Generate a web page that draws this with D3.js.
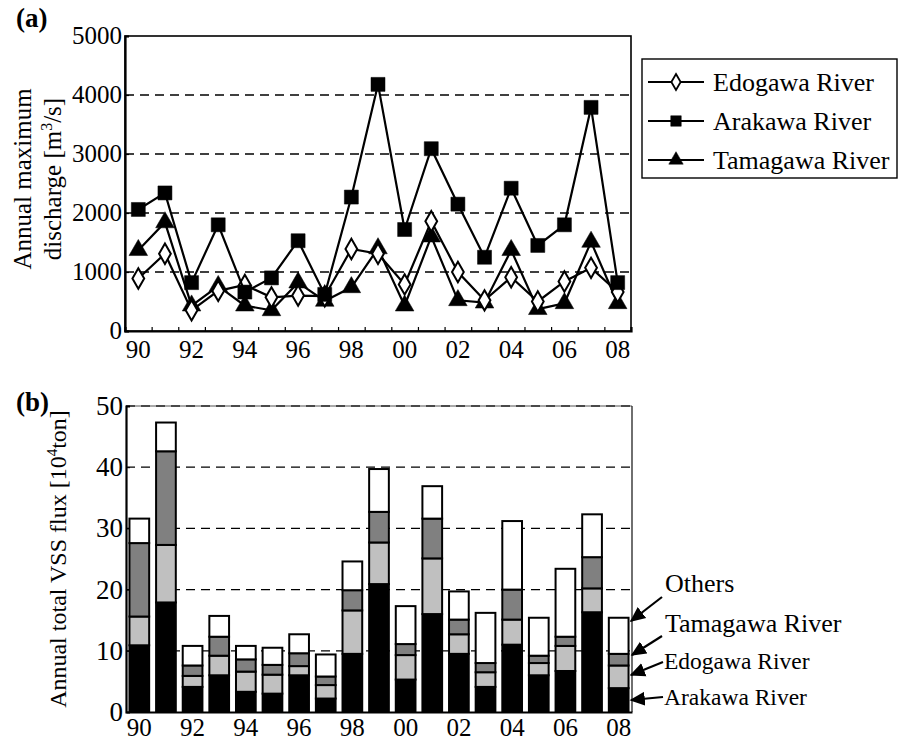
<!DOCTYPE html>
<html>
<head>
<meta charset="utf-8">
<script src="https://cdn.jsdelivr.net/npm/d3@7/dist/d3.min.js"></script>
<style>
  body { margin: 0; background: #fff; }
  svg { display: block; }
  text { font-family: "Liberation Serif", "Times New Roman", serif; fill: #000; }
</style>
</head>
<body>
<svg id="chart" width="898" height="740"></svg>
<script>
// Hydrological years 1990–2008
const years = [1990,1991,1992,1993,1994,1995,1996,1997,1998,1999,2000,2001,2002,2003,2004,2005,2006,2007,2008];
const yearLabels = ["90","92","94","96","98","00","02","04","06","08"];

// (a) annual maximum discharge [m3/s]
const edogawaQ  = [890,1310,350,680,780,570,600,590,1390,1310,790,1860,1000,520,910,500,840,1070,660];
const arakawaQ  = [2060,2340,820,1800,660,900,1530,620,2270,4180,1720,3090,2150,1250,2420,1450,1800,3790,820];
const tamagawaQ = [1370,1840,430,760,430,350,820,510,740,1400,430,1600,520,480,1370,370,470,1510,470];
const dischargeTicks = [0,1000,2000,3000,4000,5000];

// (b) annual total VSS flux [10^4 ton], by source
const arakawaF  = [10.9,17.9,4.1,6.0,3.3,3.0,6.0,2.2,9.5,20.9,5.3,16.0,9.5,4.1,11.0,6.0,6.7,16.3,3.9];
const edogawaF  = [4.7,9.4,1.8,3.2,3.3,3.1,1.5,2.2,7.1,6.8,4.0,9.1,3.2,2.4,4.1,2.0,4.1,3.9,3.7];
const tamagawaF = [12.0,15.3,1.7,3.1,2.0,1.6,2.1,1.4,3.3,5.0,1.8,6.5,2.4,1.5,4.9,1.2,1.5,5.1,1.9];
const othersF   = [4.0,4.7,3.2,3.4,2.2,2.8,3.1,3.6,4.7,7.0,6.2,5.3,4.6,8.2,11.2,6.2,11.1,7.0,5.9];
const fluxTicks = [0,10,20,30,40,50];
const fluxKeys = ["Arakawa River","Edogawa River","Tamagawa River","Others"];
const fluxColors = ["#000000","#c0c0c0","#808080","#ffffff"];

const svg = d3.select("#chart");

// ---------- panel (a) ----------
const A = {left:125, right:631, top:36, bottom:331};
const xA = d3.scaleBand().domain(years).range([A.left, A.right]).paddingInner(0.26).paddingOuter(0.13);
const xcA = d => xA(d) + xA.bandwidth()/2;
const yA = d3.scaleLinear().domain([0,5000]).range([A.bottom, A.top]);
const binA = d3.scaleLinear().domain([0, years.length]).range([A.left, A.right]);

const gA = svg.append("g");
// dashed gridlines
gA.append("g").selectAll("line").data(dischargeTicks.filter(v => v>0 && v<5000)).join("line")
  .attr("x1", A.left).attr("x2", A.right).attr("y1", d=>yA(d)).attr("y2", d=>yA(d))
  .attr("stroke","#000").attr("stroke-width",1.3).attr("stroke-dasharray","9,6");
// frame
gA.append("rect").attr("x",A.left).attr("y",A.top).attr("width",A.right-A.left).attr("height",A.bottom-A.top)
  .attr("fill","none").attr("stroke","#000").attr("stroke-width",1.6);

// y axis
const yAxisA = gA.append("g").attr("transform",`translate(${A.left},0)`)
  .call(d3.axisRight(yA).tickValues(dischargeTicks).tickSize(4).tickFormat(""));
yAxisA.select(".domain").attr("stroke-width",2.2);
yAxisA.selectAll(".tick line").attr("stroke-width",1.2);
gA.append("g").selectAll("text").data(dischargeTicks).join("text")
  .attr("x", A.left-3).attr("y", d=>yA(d)+8).attr("text-anchor","end")
  .attr("font-size",25).text(d=>d);

// x axis: inner ticks at year boundaries, labels every second year
const xAxisA = gA.append("g").attr("transform",`translate(0,${A.bottom})`)
  .call(d3.axisTop(binA).tickValues(d3.range(1, years.length)).tickSize(4).tickFormat(""));
xAxisA.select(".domain").attr("stroke-width",2.2);
xAxisA.selectAll(".tick line").attr("stroke-width",1.2);
gA.append("g").selectAll("text").data(yearLabels).join("text")
  .attr("x", (d,i)=>xcA(years[i*2])).attr("y", A.bottom+27).attr("text-anchor","middle")
  .attr("font-size",25).text(d=>d);

// series
const seriesA = [
  {name:"Tamagawa River", values:tamagawaQ, shape:"tri"},
  {name:"Edogawa River", values:edogawaQ, shape:"dia"},
  {name:"Arakawa River", values:arakawaQ, shape:"sq"}
];
const lineA = d3.line().x((d,i)=>xcA(years[i])).y(d=>yA(d));
const symbolFor = {
  sq:  d3.symbol().type(d3.symbolSquare).size(196),
  dia: d3.symbol().type(d3.symbolDiamond).size(120),
  tri: d3.symbol().type(d3.symbolTriangle).size(150)
};
seriesA.forEach(s => {
  const g = gA.append("g");
  g.append("path").datum(s.values).attr("d", lineA).attr("fill","none")
    .attr("stroke","#000").attr("stroke-width",2.2);
  g.selectAll("path.m").data(s.values).join("path").attr("class","m")
    .attr("transform",(d,i)=>`translate(${xcA(years[i])},${yA(d)})`)
    .attr("d", symbolFor[s.shape])
    .attr("fill", s.shape==="dia" ? "#fff" : "#000")
    .attr("stroke","#000").attr("stroke-width", s.shape==="dia" ? 2 : 0.5);
});

// legend
const leg = gA.append("g");
leg.append("rect").attr("x",642).attr("y",59).attr("width",255).attr("height",119)
  .attr("fill","#fff").attr("stroke","#000").attr("stroke-width",1.4);
const legItems = [
  {name:"Edogawa River", shape:"dia"},
  {name:"Arakawa River", shape:"sq"},
  {name:"Tamagawa River", shape:"tri"}
];
const legSym = {
  sq:  d3.symbol().type(d3.symbolSquare).size(110),
  dia: d3.symbol().type(d3.symbolDiamond).size(75),
  tri: d3.symbol().type(d3.symbolTriangle).size(90)
};
legItems.forEach((it,i) => {
  const y = 82 + i*39;
  leg.append("line").attr("x1",648).attr("x2",704).attr("y1",y).attr("y2",y)
    .attr("stroke","#000").attr("stroke-width",2);
  leg.append("path").attr("transform",`translate(676,${y})`).attr("d", legSym[it.shape])
    .attr("fill", it.shape==="dia" ? "#fff" : "#000").attr("stroke","#000")
    .attr("stroke-width", it.shape==="dia" ? 1.8 : 0.5);
  leg.append("text").attr("x",713).attr("y",y+9).attr("font-size",26).text(it.name);
});

// titles
gA.append("text").attr("x",16).attr("y",27).attr("font-size",27).attr("font-weight","bold").text("(a)");
const tA = gA.append("text").attr("transform","translate(0,179) rotate(-90)")
  .attr("text-anchor","middle").attr("font-size",25);
tA.append("tspan").attr("x",0).attr("y",31).text("Annual maximum");
const t2 = tA.append("tspan").attr("x",0).attr("y",61);
t2.append("tspan").text("discharge [m");
t2.append("tspan").attr("font-size",16).attr("dy",-9).text("3");
t2.append("tspan").attr("dy",9).text("/s]");

// ---------- panel (b) ----------
const B = {left:126, right:632, top:406, bottom:712};
const xB = d3.scaleBand().domain(years).range([B.left, B.right]).paddingInner(0.26).paddingOuter(0.13);
const yB = d3.scaleLinear().domain([0,50]).range([B.bottom, B.top]);

const gB = svg.append("g");
gB.append("g").selectAll("line").data(fluxTicks.filter(v => v>0)).join("line")
  .attr("x1", B.left).attr("x2", B.right).attr("y1", d=>yB(d)).attr("y2", d=>yB(d))
  .attr("stroke","#000").attr("stroke-width",1.3).attr("stroke-dasharray","9,6");
gB.append("line").attr("x1",B.left).attr("x2",B.right).attr("y1",B.top).attr("y2",B.top)
  .attr("stroke","#555").attr("stroke-width",1);
gB.append("line").attr("x1",B.right).attr("x2",B.right).attr("y1",B.top).attr("y2",B.bottom)
  .attr("stroke","#222").attr("stroke-width",1.3);

// stacked bars
const rows = years.map((y,i)=>({year:y, "Arakawa River":arakawaF[i], "Edogawa River":edogawaF[i], "Tamagawa River":tamagawaF[i], "Others":othersF[i]}));
const stacked = d3.stack().keys(fluxKeys)(rows);
gB.append("g").selectAll("g").data(stacked).join("g")
  .attr("fill",(d,i)=>fluxColors[i])
  .selectAll("rect").data(d=>d).join("rect")
  .attr("x", d=>xB(d.data.year)).attr("width", xB.bandwidth())
  .attr("y", d=>yB(d[1])).attr("height", d=>yB(d[0])-yB(d[1]))
  .attr("stroke","#000").attr("stroke-width",2);

const yAxisB = gB.append("g").attr("transform",`translate(${B.left},0)`)
  .call(d3.axisRight(yB).tickValues(fluxTicks).tickSize(4).tickFormat(""));
yAxisB.select(".domain").attr("stroke-width",2.2);
gB.append("g").selectAll("text").data(fluxTicks).join("text")
  .attr("x", B.left-3).attr("y", d=>yB(d)+9).attr("text-anchor","end")
  .attr("font-size",27).text(d=>d);
const xAxisB = gB.append("g").attr("transform",`translate(0,${B.bottom})`)
  .call(d3.axisTop(xB).tickSize(0).tickFormat(""));
xAxisB.select(".domain").attr("stroke-width",2.2);
gB.append("g").selectAll("text").data(yearLabels).join("text")
  .attr("x", (d,i)=>xB(years[i*2])+xB.bandwidth()/2).attr("y", B.bottom+24).attr("text-anchor","middle")
  .attr("font-size",25).text(d=>d);

gB.append("text").attr("x",16).attr("y",411).attr("font-size",27).attr("font-weight","bold").text("(b)");
const tB = gB.append("text").attr("transform","translate(66,559) rotate(-90)")
  .attr("text-anchor","middle").attr("font-size",24);
tB.append("tspan").text("Annual total VSS flux [10");
tB.append("tspan").attr("font-size",15).attr("dy",-9).text("4");
tB.append("tspan").attr("dy",9).text("ton]");

// component labels with arrows to the last bar
const defs = svg.append("defs");
defs.append("marker").attr("id","arrow").attr("viewBox","0 0 10 10").attr("refX",9).attr("refY",5)
  .attr("markerWidth",7).attr("markerHeight",7).attr("orient","auto-start-reverse")
  .append("path").attr("d","M0,0.5 L10,5 L0,9.5 z").attr("fill","#000");
const notes = [
  {text:"Others", size:26, tx:665, ty:592, from:[662,597], to:[631,621]},
  {text:"Tamagawa River", size:26, tx:665, ty:632, from:[662,636], to:[632,655]},
  {text:"Edogawa River", size:23.5, tx:664, ty:669, from:[663,662], to:[631,675]},
  {text:"Arakawa River", size:23.5, tx:664, ty:705, from:[663,697], to:[631,700]}
];
notes.forEach(n => {
  gB.append("line").attr("x1",n.from[0]).attr("y1",n.from[1]).attr("x2",n.to[0]).attr("y2",n.to[1])
    .attr("stroke","#000").attr("stroke-width",2.2).attr("marker-end","url(#arrow)");
  gB.append("text").attr("x",n.tx).attr("y",n.ty).attr("font-size",n.size).text(n.text);
});
</script>
</body>
</html>
